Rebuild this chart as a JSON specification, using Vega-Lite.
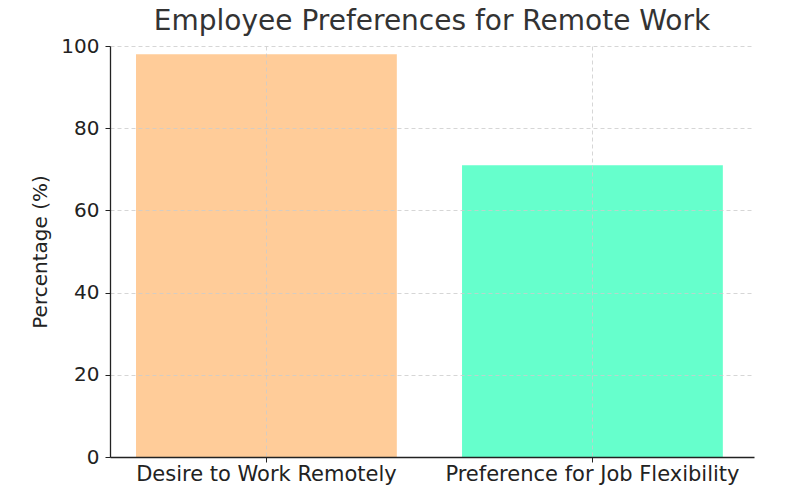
{
  "$schema": "https://vega.github.io/schema/vega-lite/v6.json",
  "width": 644,
  "height": 411,
  "autosize": {"type": "none"},
  "padding": {"left": 110, "top": 46, "right": 34, "bottom": 42},
  "background": "white",
  "title": {
    "text": "Employee Preferences for Remote Work",
    "font": "DejaVu Sans",
    "fontSize": 28,
    "fontWeight": "normal",
    "color": "#333333",
    "anchor": "middle",
    "offset": 0
  },
  "data": {
    "values": [
      {"category": "Desire to Work Remotely", "percentage": 98},
      {"category": "Preference for Job Flexibility", "percentage": 71}
    ]
  },
  "mark": {"type": "bar"},
  "encoding": {
    "x": {
      "field": "category",
      "type": "nominal",
      "sort": null,
      "scale": {"paddingInner": 0.2, "paddingOuter": 0.0877, "align": 0.455},
      "axis": {
        "title": null,
        "labelAngle": 0,
        "labelFont": "DejaVu Sans",
        "labelFontSize": 21,
        "labelLimit": 0,
        "labelColor": "#222222",
        "labelPadding": 1,
        "tickColor": "#222222",
        "tickSize": 5,
        "domainColor": "#222222",
        "domainWidth": 1.3,
        "grid": true,
        "gridColor": "#cccccc",
        "gridDash": [4, 3],
        "gridWidth": 0.8,
        "zindex": 1
      }
    },
    "y": {
      "field": "percentage",
      "type": "quantitative",
      "scale": {"domain": [0, 100], "nice": false},
      "axis": {
        "title": "Percentage (%)",
        "titleFont": "DejaVu Sans",
        "titleFontSize": 20,
        "titleFontWeight": "normal",
        "titleColor": "#222222",
        "titlePadding": 10,
        "values": [0, 20, 40, 60, 80, 100],
        "labelFont": "DejaVu Sans",
        "labelFontSize": 20,
        "labelColor": "#222222",
        "labelPadding": 6,
        "tickColor": "#222222",
        "tickSize": 5,
        "domainColor": "#222222",
        "domainWidth": 1.3,
        "grid": true,
        "gridColor": "#cccccc",
        "gridDash": [4, 3],
        "gridWidth": 0.8,
        "zindex": 1
      }
    },
    "color": {
      "field": "category",
      "type": "nominal",
      "scale": {"range": ["#FFCC99", "#66FFCC"]},
      "legend": null
    }
  },
  "config": {"view": {"stroke": null}}
}
